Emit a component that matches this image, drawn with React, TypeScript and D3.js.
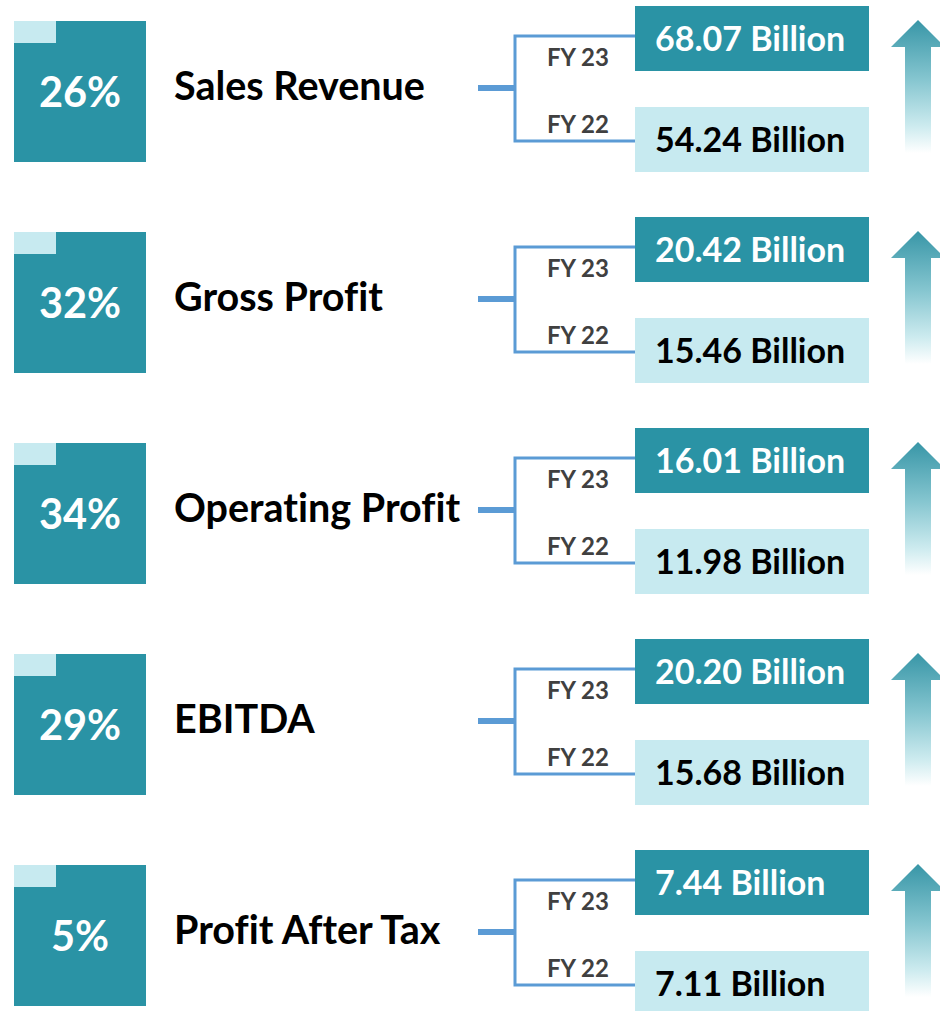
import React from "react";
import * as d3 from "d3";

const metrics = ["Sales Revenue", "Gross Profit", "Operating Profit", "EBITDA", "Profit After Tax"];
const growthPct = [26, 32, 34, 29, 5];
const fy23Values = [68.07, 20.42, 16.01, 20.2, 7.44];
const fy22Values = [54.24, 15.46, 11.98, 15.68, 7.11];
const periods = ["FY 23", "FY 22"];

const W = 940;
const H = 1011;
const TEAL = "#2A93A5";
const LIGHT = "#C7EAF0";
const LINE = "#5B9BD5";
const FONT = "Lato, 'Open Sans', sans-serif";

export default function App() {
  const rowY = d3.scalePoint<string>().domain(metrics).range([6, 850]);
  const fmt = d3.format(".2f");
  const arrowPath = (top: number) => {
    const p = d3.path();
    const cx = 918;
    p.moveTo(cx, top + 14);
    p.lineTo(cx + 27, top + 41);
    p.lineTo(cx + 13, top + 41);
    p.lineTo(cx + 13, top + 147);
    p.lineTo(cx - 13, top + 147);
    p.lineTo(cx - 13, top + 41);
    p.lineTo(cx - 27, top + 41);
    p.closePath();
    return p.toString();
  };
  const noLig = { fontVariantLigatures: "none" as const, fontFeatureSettings: "'liga' 0, 'clig' 0" };
  return (
    <svg width={W} height={H} style={{ position: "absolute", left: 0, top: 0, display: "block", ...noLig }} fontFamily={FONT}>
      <defs>
        <linearGradient id="arrowGrad" x1="0" y1="0" x2="0" y2="1">
          <stop offset="0" stopColor="#3896A7" />
          <stop offset="0.45" stopColor="#86C6D0" />
          <stop offset="0.8" stopColor="#CDEBEF" />
          <stop offset="1" stopColor="#FFFFFF" />
        </linearGradient>
      </defs>
      <rect x={0} y={0} width={W} height={H} fill="#fff" />
      {metrics.map((m, i) => {
        const top = rowY(m) as number;
        return (
          <g key={m}>
            <rect x={14} y={top + 15} width={132} height={141} fill={TEAL} />
            <rect x={14} y={top + 15} width={42} height={22} fill={LIGHT} />
            <text x={80} y={top + 101} textAnchor="middle" fill="#fff" fontWeight={700} fontSize={41.5}>
              {growthPct[i]}%
            </text>
            <text x={174} y={top + 94} fill="#000" fontWeight={700} fontSize={39.5} style={noLig}>
              {m}
            </text>
            <path
              d={`M515,${top + 30}H635M515,${top + 135}H635M515,${top + 28.5}V${top + 136.5}`}
              fill="none"
              stroke={LINE}
              strokeWidth={3}
            />
            <line x1={478} x2={516} y1={top + 82} y2={top + 82} stroke={LINE} strokeWidth={6} />
            <text x={547} y={top + 60} fill="#404040" fontWeight={700} fontSize={24}>
              {periods[0]}
            </text>
            <text x={547} y={top + 127} fill="#404040" fontWeight={700} fontSize={24}>
              {periods[1]}
            </text>
            <rect x={635} y={top} width={234} height={65} fill={TEAL} />
            <rect x={635} y={top + 101} width={234} height={65} fill={LIGHT} />
            <text x={655} y={top + 45} fill="#fff" fontWeight={700} fontSize={34}>
              {fmt(fy23Values[i])} Billion
            </text>
            <text x={655} y={top + 146} fill="#000" fontWeight={700} fontSize={34}>
              {fmt(fy22Values[i])} Billion
            </text>
            <path d={arrowPath(top)} fill="url(#arrowGrad)" />
          </g>
        );
      })}
    </svg>
  );
}
